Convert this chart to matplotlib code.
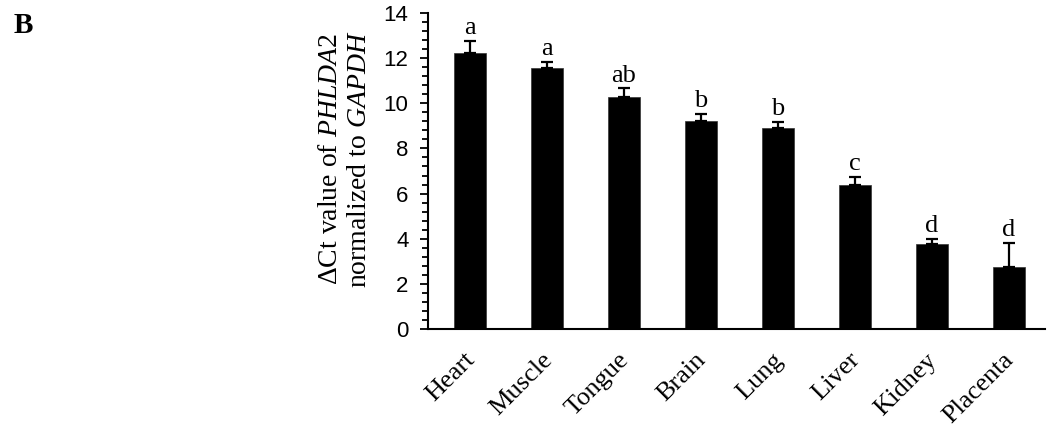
import matplotlib
matplotlib.use("Agg")
import matplotlib.pyplot as plt
from matplotlib.ticker import MultipleLocator
from matplotlib.transforms import ScaledTranslation

tissues = ["Heart", "Muscle", "Tongue", "Brain", "Lung", "Liver", "Kidney", "Placenta"]
values = [12.21, 11.55, 10.29, 9.22, 8.90, 6.37, 3.77, 2.76]
errors = [0.55, 0.30, 0.37, 0.31, 0.26, 0.38, 0.22, 1.06]
letters = ["a", "a", "ab", "b", "b", "c", "d", "d"]

plt.rcParams["mathtext.fontset"] = "custom"
plt.rcParams["mathtext.rm"] = "Liberation Serif"
plt.rcParams["mathtext.it"] = "Liberation Serif:italic"

W, H = 1052, 433
fig = plt.figure(figsize=(W / 100, H / 100), dpi=100)
ax = fig.add_axes([428 / W, 1 - 329 / H, (1045 - 428) / W, (329 - 13) / H])

x = list(range(len(tissues)))
ax.bar(x, values, width=0.42, color="black", edgecolor="#333333", linewidth=0.5, zorder=2)
ax.errorbar(x, values, yerr=[[0] * len(errors), errors], fmt="none", ecolor="black",
            elinewidth=1.6, capsize=4.5, capthick=1.6, zorder=3)
for xi, v, e, l in zip(x, values, errors, letters):
    ax.text(xi, v + e + 0.3, l, ha="center", va="baseline", fontsize=19,
            family="Liberation Serif")

ax.set_xlim(-0.545, 7.47)
ax.set_ylim(0, 14)
ax.yaxis.set_major_locator(MultipleLocator(2))
ax.yaxis.set_minor_locator(MultipleLocator(0.4))
ax.tick_params(axis="y", which="major", direction="out", length=6, width=1.3,
               labelsize=16, pad=8)
ax.tick_params(axis="y", which="minor", direction="out", length=4, width=1.3)
for lab in ax.get_yticklabels():
    lab.set_family("Liberation Sans")
ax.set_xticks(x)
ax.set_xticklabels(tissues, rotation=45, ha="right", va="baseline",
                   rotation_mode="anchor", fontsize=19, family="Liberation Serif")
ax.tick_params(axis="x", length=0, pad=23)
shift = ScaledTranslation(6 / 100, 0, fig.dpi_scale_trans)
for lab in ax.get_xticklabels():
    lab.set_transform(lab.get_transform() + shift)
for s in ["top", "right"]:
    ax.spines[s].set_visible(False)
ax.spines["left"].set_linewidth(1.5)
ax.spines["bottom"].set_linewidth(1.5)

fig.text(345 / W, 1 - 159 / H,
         "ΔCt value of $\\mathit{PHLDA2}$\nnormalized to $\\mathit{GAPDH}$",
         rotation=90, ha="center", va="center", multialignment="center",
         fontsize=20, family="Liberation Serif", linespacing=1.2)
fig.text(14 / W, 1 - 12 / H, "B", ha="left", va="top", fontsize=21,
         fontweight="bold", family="Liberation Serif")

fig.savefig("out.png", dpi=100)
